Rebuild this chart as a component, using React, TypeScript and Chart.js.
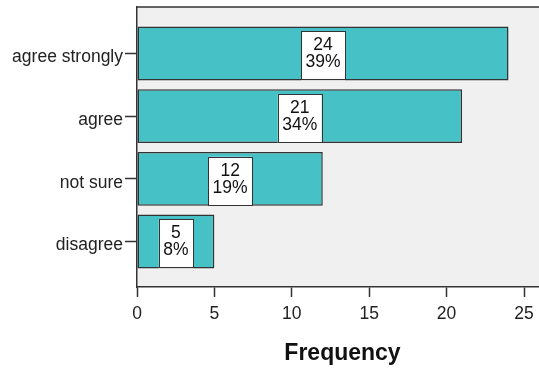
import React, { useEffect, useRef } from "react";
import { Chart, registerables } from "chart.js";

Chart.register(...registerables);

const categories = ["agree strongly", "agree", "not sure", "disagree"];
const counts = [24, 21, 12, 5];
const percents = [39, 34, 19, 8];
const xTickValues = [0, 5, 10, 15, 20, 25];
const axisTitle = "Frequency";

const FONT = "'Liberation Sans', Arial, sans-serif";

const plotBgPlugin = {
  id: "plotBg",
  beforeDraw(chart: any) {
    const { ctx, chartArea } = chart;
    ctx.save();
    ctx.fillStyle = "#F0F0F0";
    ctx.fillRect(chartArea.left, chartArea.top, chartArea.right - chartArea.left, chartArea.bottom - chartArea.top);
    ctx.strokeStyle = "#333";
    ctx.lineWidth = 1.5;
    ctx.beginPath();
    ctx.moveTo(chartArea.left, chartArea.top);
    ctx.lineTo(chartArea.right, chartArea.top);
    ctx.stroke();
    ctx.restore();
  },
};

const boxLabelPlugin = {
  id: "boxLabels",
  afterDatasetsDraw(chart: any) {
    const { ctx } = chart;
    const meta = chart.getDatasetMeta(0);
    ctx.save();
    ctx.font = `17.5px ${FONT}`;
    ctx.textAlign = "center";
    ctx.textBaseline = "middle";
    meta.data.forEach((bar: any, i: number) => {
      const props = bar.getProps(["x", "y", "base", "height"], true);
      const cx = (props.x + props.base) / 2;
      const l1 = String(counts[i]);
      const l2 = `${percents[i]}%`;
      const w = Math.max(ctx.measureText(l1).width, ctx.measureText(l2).width) + 9;
      const bottom = props.y + props.height / 2;
      const h = 49;
      const top = bottom - h;
      ctx.fillStyle = "#fff";
      ctx.fillRect(cx - w / 2, top, w, h);
      ctx.strokeStyle = "#333";
      ctx.lineWidth = 1;
      ctx.strokeRect(Math.round(cx - w / 2) + 0.5, Math.round(top) + 0.5, Math.round(w), Math.round(h) - 1);
      ctx.fillStyle = "#111";
      ctx.fillText(l1, cx, top + 14);
      ctx.fillText(l2, cx, top + 31);
    });
    ctx.restore();
  },
};

export default function App() {
  const ref = useRef<HTMLCanvasElement>(null);
  useEffect(() => {
    if (!ref.current) return;
    const chart = new Chart(ref.current, {
      type: "bar",
      data: {
        datasets: [
          {
            data: counts.map((v, i) => ({ x: v, y: i })),
            backgroundColor: "#46C1C5",
            borderColor: "#333",
            borderWidth: 1.5,
            borderSkipped: false,
            barPercentage: 0.86,
            categoryPercentage: 1,
          },
        ],
      },
      plugins: [plotBgPlugin, boxLabelPlugin],
      options: {
        indexAxis: "y",
        animation: false,
        responsive: false,
        layout: { padding: { top: 7, left: 0, right: 0, bottom: 0 } },
        plugins: { legend: { display: false }, tooltip: { enabled: false } },
        scales: {
          y: {
            type: "linear",
            reverse: true,
            offset: false,
            min: -0.742,
            max: 3.726,
            afterBuildTicks: (axis: any) => {
              axis.ticks = categories.map((_, i) => ({ value: i }));
            },
            afterFit: (scale: any) => {
              scale.width = 137;
              scale.paddingTop = 0;
              scale.paddingBottom = 0;
            },
            ticks: {
              callback: (v: any) => categories[v] ?? "",
              font: { family: FONT, size: 17.5 },
              color: "#222",
              padding: 2,
              labelOffset: 4,
            },
            grid: {
              offset: false,
              drawOnChartArea: false,
              drawTicks: true,
              tickLength: 12,
              tickColor: "#333",
              tickWidth: 1.5,
            },
            border: { color: "#333", width: 1.5 },
          },
          x: {
            type: "linear",
            min: 0,
            max: 26.55,
            afterBuildTicks: (axis: any) => {
              axis.ticks = xTickValues.map((v) => ({ value: v }));
            },
            afterFit: (scale: any) => {
              scale.height = 84;
              scale.paddingLeft = 0;
              scale.paddingRight = 0;
            },
            ticks: {
              font: { family: FONT, size: 17.5 },
              color: "#222",
              padding: 7,
              maxRotation: 0,
            },
            grid: {
              drawOnChartArea: false,
              drawTicks: true,
              tickLength: 10,
              tickColor: "#333",
              tickWidth: 1.5,
            },
            border: { color: "#333", width: 1.5 },
            title: {
              display: true,
              text: axisTitle,
              font: { family: FONT, size: 23, weight: "bold" },
              color: "#111",
              padding: { top: 0, bottom: 4 },
            },
          },
        },
      },
    } as any);
    return () => chart.destroy();
  }, []);
  return (
    <div
      style={{
        position: "absolute",
        left: 0,
        top: 0,
        width: 539,
        height: 371,
        overflow: "hidden",
        background: "#fff",
      }}
    >
      <canvas ref={ref} width={548} height={371} style={{ display: "block", width: 548, height: 371 }} />
    </div>
  );
}
